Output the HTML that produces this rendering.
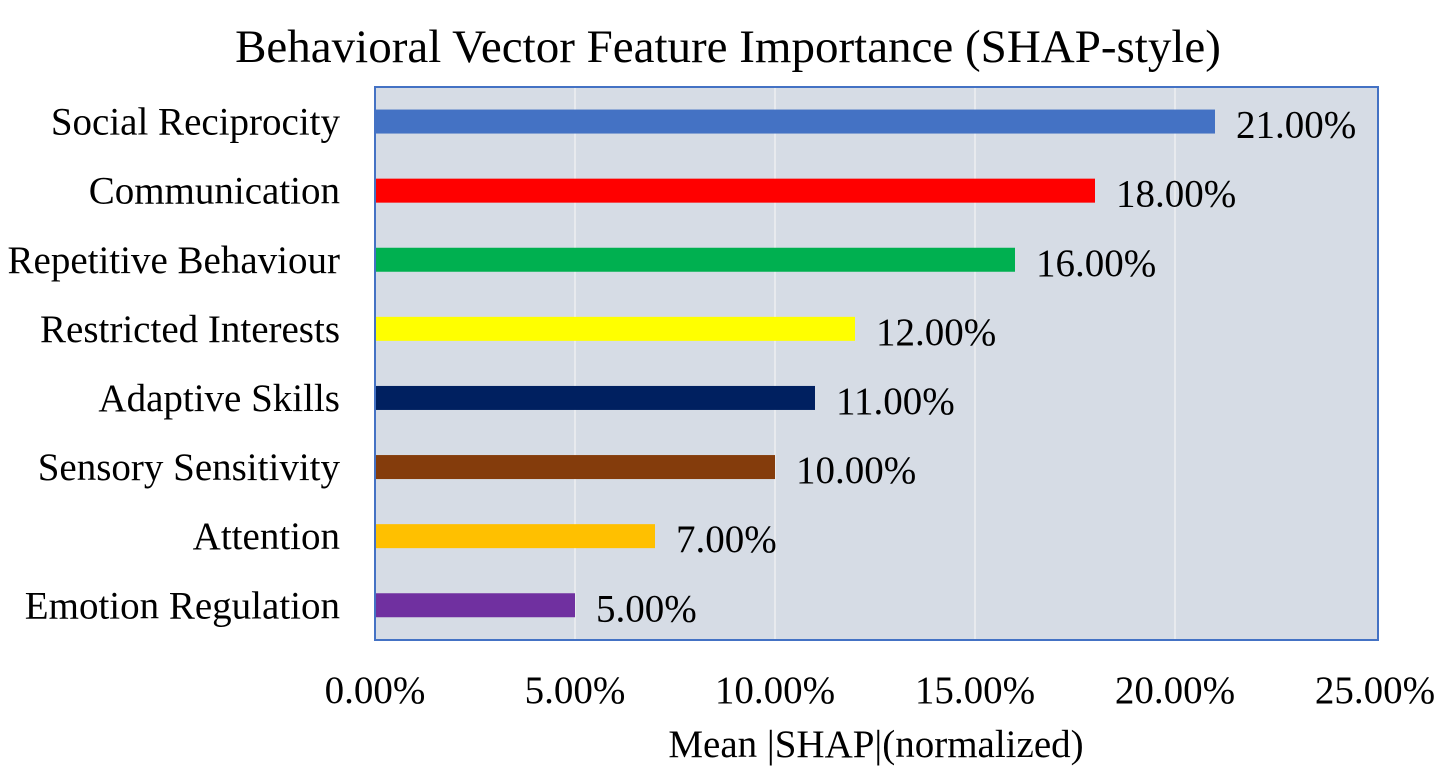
<!DOCTYPE html>
<html><head><meta charset="utf-8"><style>
body{margin:0;background:#fff;width:1441px;height:767px;overflow:hidden}
svg text{font-family:"Liberation Serif",serif;fill:#000}
</style></head><body>
<svg id="chart" width="1441" height="767">
<text x="728" y="62" font-size="47" text-anchor="middle">Behavioral Vector Feature Importance (SHAP-style)</text>
<rect x="375" y="87" width="1003" height="553" fill="#d6dce5" stroke="#4472c4" stroke-width="2"/>
<g id="grid"></g><g id="bars"></g><g id="labels"></g><g id="ticks"></g>
<text x="876" y="757" font-size="39" text-anchor="middle">Mean |SHAP|(normalized)</text>
</svg>
<script>
const categories=["Social Reciprocity","Communication","Repetitive Behaviour","Restricted Interests","Adaptive Skills","Sensory Sensitivity","Attention","Emotion Regulation"];
const values=[21,18,16,12,11,10,7,5];
const colors=["#4472c4","#ff0000","#00b050","#ffff00","#002060","#843c0c","#ffc000","#7030a0"];
const ticks=[0,5,10,15,20,25];
const NS="http://www.w3.org/2000/svg";
const x0=375,pxPer=40,top0=87,band=69.1,bh=24;
const xs=v=>x0+v*pxPer;
function mk(t,a,p){const e=document.createElementNS(NS,t);for(const k in a)e.setAttribute(k,a[k]);p.appendChild(e);return e;}
const g=document.getElementById('grid'),b=document.getElementById('bars'),l=document.getElementById('labels'),tk=document.getElementById('ticks');
ticks.forEach(t=>{
 if(t>0&&t<25){const ln=mk('line',{x1:xs(t),x2:xs(t),y1:88,y2:639,stroke:'#e8eaee','stroke-width':2},g);
 
 }
 const tx=mk('text',{x:xs(t),y:703,'font-size':39,'text-anchor':'middle'},tk);tx.textContent=t.toFixed(2)+'%';
 
 
});
categories.forEach((c,i)=>{
 const cy=top0+band*(i+0.5);
 const r=mk('rect',{x:x0+1,y:cy-bh/2,width:xs(values[i])-x0-1,height:bh,fill:colors[i]},b);
 
 
 const lb=mk('text',{x:340,y:cy+13,'font-size':39,'text-anchor':'end'},l);lb.textContent=c;
 
 
 const vl=mk('text',{x:xs(values[i])+21,y:cy+16,'font-size':39},l);vl.textContent=values[i].toFixed(2)+'%';
 
 
});
</script>
</body></html>
